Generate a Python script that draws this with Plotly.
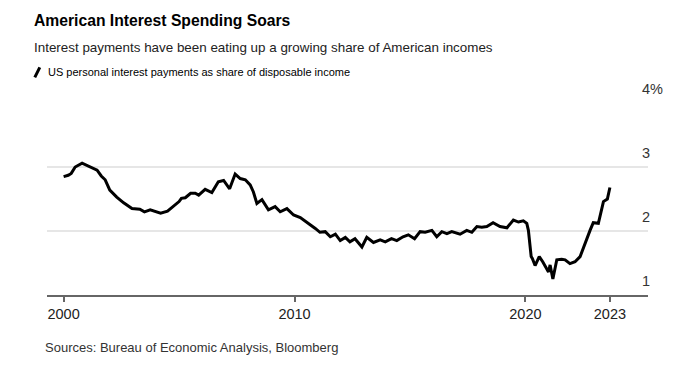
import plotly.graph_objects as go

# ---- data (decimal year, % of disposable income) ----
years = [
    2000.0, 2000.2, 2000.33, 2000.5, 2000.8, 2001.0, 2001.2, 2001.45, 2001.63, 2001.8,
    2002.0, 2002.3, 2002.6, 2002.96, 2003.3, 2003.5, 2003.75, 2003.95, 2004.2, 2004.5,
    2004.75, 2005.0, 2005.1, 2005.27, 2005.5, 2005.7, 2005.85, 2006.13, 2006.42, 2006.7,
    2006.93, 2007.19, 2007.43, 2007.65, 2007.87, 2008.08, 2008.22, 2008.37, 2008.59, 2008.87,
    2009.16, 2009.38, 2009.67, 2009.96, 2010.25, 2010.45, 2010.68, 2010.9, 2011.1, 2011.33,
    2011.55, 2011.77, 2011.98, 2012.2, 2012.4, 2012.62, 2012.92, 2013.13, 2013.42, 2013.71,
    2013.93, 2014.2, 2014.43, 2014.7, 2014.93, 2015.2, 2015.44, 2015.66, 2015.95, 2016.16,
    2016.38, 2016.6, 2016.81, 2017.02, 2017.17, 2017.46, 2017.68, 2017.9, 2018.11, 2018.33,
    2018.6, 2018.9, 2019.2, 2019.48, 2019.7, 2019.91, 2020.06, 2020.13, 2020.25, 2020.3,
    2020.42, 2020.6, 2020.75, 2021.0, 2021.07, 2021.19, 2021.36, 2021.57, 2021.72, 2021.93,
    2022.15, 2022.37, 2022.58, 2022.8, 2022.94, 2023.16, 2023.38, 2023.55, 2023.66,
]
share = [
    2.85, 2.87, 2.90, 3.00, 3.06, 3.03, 2.99, 2.95, 2.86, 2.80,
    2.64, 2.53, 2.44, 2.35, 2.34, 2.30, 2.33, 2.31, 2.28, 2.31,
    2.38, 2.46, 2.51, 2.52, 2.59, 2.59, 2.56, 2.65, 2.60, 2.77,
    2.79, 2.66, 2.89, 2.82, 2.80, 2.72, 2.61, 2.43, 2.49, 2.33,
    2.38, 2.30, 2.35, 2.25, 2.21, 2.16, 2.09, 2.04, 1.98, 1.99,
    1.91, 1.95, 1.85, 1.90, 1.83, 1.88, 1.75, 1.90, 1.82, 1.86,
    1.83, 1.88, 1.85, 1.91, 1.94, 1.88, 1.99, 1.98, 2.01, 1.91,
    1.99, 1.96, 1.99, 1.97, 1.95, 2.01, 1.98, 2.07, 2.06, 2.07,
    2.13, 2.07, 2.05, 2.17, 2.14, 2.16, 2.12, 2.01, 1.60, 1.57,
    1.46, 1.60, 1.52, 1.36, 1.47, 1.25, 1.55, 1.56, 1.55, 1.49,
    1.52, 1.60, 1.81, 2.01, 2.13, 2.12, 2.46, 2.50, 2.68,
]

x_tick_vals = [2000, 2010, 2020, 2023.66]
x_tick_text = ["2000", "2010", "2020", "2023"]
y_grid_vals = [2, 3, 4]
y_label_vals = [1, 2, 3, 4]
y_label_text = ["1", "2", "3", "4%"]

title = "American Interest Spending Soars"
subtitle = "Interest payments have been eating up a growing share of American incomes"
legend_text = "US personal interest payments as share of disposable income"
source = "Sources: Bureau of Economic Analysis, Bloomberg"

FONT = "Liberation Sans, Arial, sans-serif"

# page has an 8px body margin; work in page coordinates and convert
OFF = 8
W, H = 676, 358
L = 46.7 - OFF
T = 102.7 - OFF
R = W - (648 - OFF)
B = H - (295 - OFF)
pw = W - L - R
ph = H - T - B


def px_x(px):
    return (px - OFF - L) / pw


def px_y(py):
    return (H - B - (py - OFF)) / ph


fig = go.Figure()
fig.add_trace(go.Scatter(
    x=years, y=share, mode="lines",
    line=dict(color="#000000", width=3),
    hoverinfo="skip", showlegend=False,
))

annotations = []
for v, t in zip(y_label_vals, y_label_text):
    annotations.append(dict(
        x=px_x(640), xref="paper", xanchor="left",
        y=v, yref="y", yanchor="middle", yshift=14,
        text=t, showarrow=False,
        font=dict(family=FONT, size=14.5, color="#333333"),
    ))

annotations += [
    dict(x=px_x(32), xref="paper", xanchor="left", y=px_y(20), yref="paper", yanchor="middle",
         text="<b>" + title + "</b>", showarrow=False,
         font=dict(family=FONT, size=15.7, color="#000000")),
    dict(x=px_x(32), xref="paper", xanchor="left", y=px_y(47), yref="paper", yanchor="middle",
         text=subtitle, showarrow=False,
         font=dict(family=FONT, size=13.4, color="#222222")),
    dict(x=px_x(46), xref="paper", xanchor="left", y=px_y(72), yref="paper", yanchor="middle",
         text=legend_text, showarrow=False,
         font=dict(family=FONT, size=11.0, color="#000000")),
    dict(x=px_x(43), xref="paper", xanchor="left", y=px_y(348), yref="paper", yanchor="middle",
         text=source, showarrow=False,
         font=dict(family=FONT, size=13.0, color="#333333")),
]

shapes = [
    dict(type="line", xref="paper", yref="paper",
         x0=px_x(34.5), y0=px_y(77), x1=px_x(39.5), y1=px_y(67),
         line=dict(color="#000000", width=3)),
]

fig.update_layout(
    width=W, height=H,
    margin=dict(l=L, r=R, t=T, b=B, pad=0),
    paper_bgcolor="white", plot_bgcolor="white",
    annotations=annotations, shapes=shapes,
    xaxis=dict(
        range=[1999.28, 2025.31],
        tickvals=x_tick_vals, ticktext=x_tick_text,
        showgrid=False, zeroline=False,
        showline=True, linecolor="#666666", linewidth=1.5,
        ticks="outside", ticklen=5, tickwidth=1.5, tickcolor="#666666",
        tickfont=dict(family=FONT, size=14.5, color="#222222"),
        fixedrange=True,
    ),
    yaxis=dict(
        range=[1, 4],
        tickvals=y_grid_vals, showticklabels=False,
        showgrid=True, gridcolor="#e6e6e6", gridwidth=2,
        zeroline=False, showline=False, ticks="",
        fixedrange=True,
    ),
    font=dict(family=FONT),
)

fig.write_html("out.html")
